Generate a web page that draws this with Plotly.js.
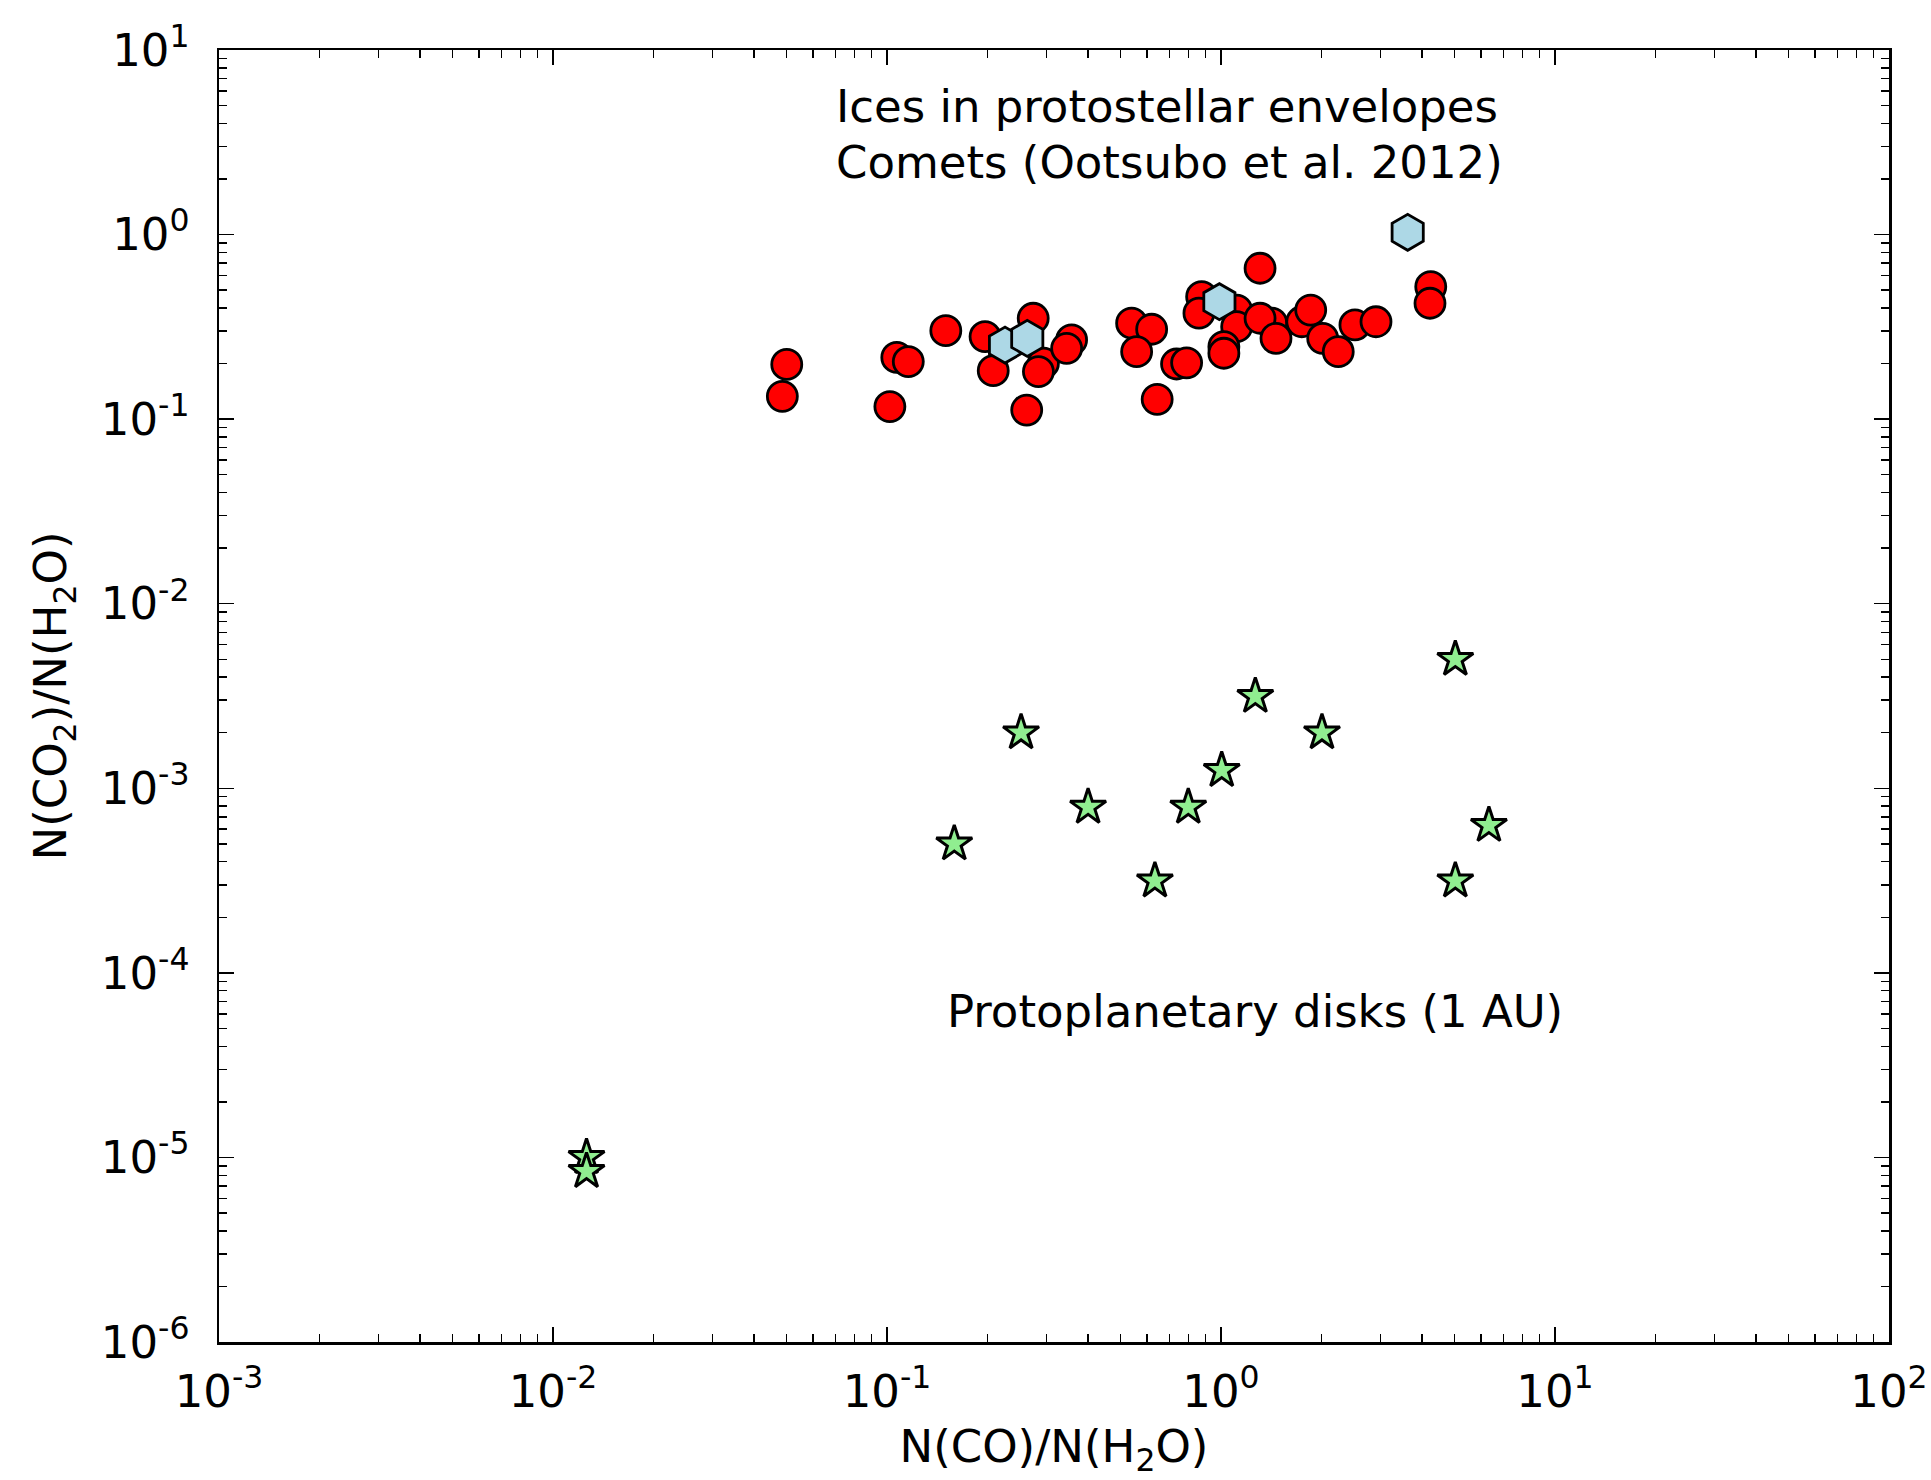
<!DOCTYPE html>
<html>
<head>
<meta charset="utf-8">
<script src="https://cdn.plot.ly/plotly-3.0.1.min.js"></script>
<style>html,body{margin:0;padding:0;background:#fff;}#chart{width:1931px;height:1480px;}</style>
</head>
<body>
<div id="chart"></div>
<script>
// Ices in protostellar envelopes (red circles)
const envX = [0.0501, 0.0486, 0.107, 0.1158, 0.102, 0.150, 0.1966, 0.274, 0.208, 0.294, 0.284, 0.357, 0.345, 0.262,
              0.540, 0.620, 0.559, 0.644, 0.736, 0.789, 0.875, 0.859, 1.114, 1.114, 1.02, 1.02, 1.309, 1.419, 1.309,
              1.461, 1.745, 1.856, 2.016, 2.244, 2.518, 2.911, 4.246, 4.224];
const envY = [0.198, 0.133, 0.216, 0.205, 0.117, 0.3015, 0.280, 0.352, 0.183, 0.201, 0.181, 0.2685, 0.242, 0.112,
              0.331, 0.307, 0.232, 0.128, 0.199, 0.202, 0.461, 0.375, 0.390, 0.317, 0.247, 0.2275, 0.657, 0.331, 0.352,
              0.274, 0.337, 0.390, 0.274, 0.232, 0.324, 0.337, 0.522, 0.4245];

// Comets (light blue hexagons)
const cometX = [0.2256, 0.263, 0.989, 3.622];
const cometY = [0.252, 0.274, 0.433, 1.029];

// Protoplanetary disks at 1 AU (green stars)
const diskX = [0.0126, 0.0126, 0.159, 0.252, 0.400, 0.634, 0.798, 1.005, 1.267, 2.006, 5.03, 6.34, 5.03];
const diskY = [1.0e-5, 8.4e-6, 5.0e-4, 2.0e-3, 7.9e-4, 3.15e-4, 7.9e-4, 1.25e-3, 3.15e-3, 2.0e-3, 5.0e-3, 6.3e-4, 3.15e-4];

// Axis ticks
const xTickVals = [1e-3, 1e-2, 1e-1, 1e0, 1e1, 1e2];
const xTickText = ['10<sup>-3</sup>', '10<sup>-2</sup>', '10<sup>-1</sup>', '10<sup>0</sup>', '10<sup>1</sup>', '10<sup>2</sup>'];
const yTickVals = [1e-6, 1e-5, 1e-4, 1e-3, 1e-2, 1e-1, 1e0, 1e1];
const yTickText = ['10<sup>-6</sup>', '10<sup>-5</sup>', '10<sup>-4</sup>', '10<sup>-3</sup>', '10<sup>-2</sup>', '10<sup>-1</sup>', '10<sup>0</sup>', '10<sup>1</sup>'];

// Text labels
const labelTexts = ['Ices in protostellar envelopes', 'Comets (Ootsubo et al. 2012)', 'Protoplanetary disks (1 AU)'];
const labelX = [0.07, 0.07, 0.15];
const labelY = [4, 2, 5e-5];

function minorTicks(lo, hi) {
  const out = [];
  for (let e = lo; e < hi; e++) {
    for (let m = 2; m <= 9; m++) out.push(m * Math.pow(10, e));
  }
  return out;
}

const FONT = 'DejaVu Sans';
const FS = 45;

const traces = [
  {
    x: envX, y: envY, type: 'scatter', mode: 'markers', name: 'envelopes',
    marker: {symbol: 'circle', size: 30, color: '#ff0000', line: {color: '#000000', width: 2.8}}
  },
  {
    x: cometX, y: cometY, type: 'scatter', mode: 'markers', name: 'comets',
    marker: {symbol: 'hexagon', size: 36, color: '#add8e6', line: {color: '#000000', width: 2.8}}
  },
  {
    x: diskX, y: diskY, type: 'scatter', mode: 'markers', name: 'disks',
    marker: {symbol: 'star', size: 27, color: '#90ee90', line: {color: '#000000', width: 3}}
  }
];

const axisCommon = {
  type: 'log',
  tickmode: 'array',
  ticks: 'inside',
  ticklen: 15,
  tickwidth: 1.5,
  tickcolor: '#000',
  showline: true,
  linecolor: '#000',
  linewidth: 2.5,
  mirror: 'ticks',
  showgrid: false,
  zeroline: false,
  tickfont: {family: FONT, size: FS, color: '#000'}
};

const layout = {
  width: 1931,
  height: 1480,
  paper_bgcolor: '#ffffff',
  plot_bgcolor: '#ffffff',
  showlegend: false,
  margin: {l: 219, r: 42, t: 50, b: 138, pad: 0},
  font: {family: FONT, size: FS, color: '#000'},
  xaxis: Object.assign({}, axisCommon, {
    range: [-3, 2],
    tickvals: xTickVals,
    ticktext: xTickText,
    ticklabelstandoff: 8,
    minor: {tickvals: minorTicks(-3, 2), ticks: 'inside', ticklen: 8, tickwidth: 1.5, tickcolor: '#000', showgrid: false},
    title: {text: 'N(CO)/N(H<sub>2</sub>O)', font: {family: FONT, size: FS, color: '#000'}, standoff: 14}
  }),
  yaxis: Object.assign({}, axisCommon, {
    range: [-6, 1],
    tickvals: yTickVals,
    ticktext: yTickText,
    ticklabelstandoff: 18,
    minor: {tickvals: minorTicks(-6, 1), ticks: 'inside', ticklen: 8, tickwidth: 1.5, tickcolor: '#000', showgrid: false},
    title: {text: 'N(CO<sub>2</sub>)/N(H<sub>2</sub>O)', font: {family: FONT, size: FS, color: '#000'}, standoff: 20}
  }),
  annotations: labelTexts.map((t, i) => ({
    text: t,
    xref: 'x', yref: 'y',
    x: Math.log10(labelX[i]), y: Math.log10(labelY[i]),
    xanchor: 'left', yanchor: 'bottom',
    yshift: -12, xshift: -1,
    showarrow: false,
    font: {family: FONT, size: FS, color: '#000'}
  }))
};

Plotly.newPlot('chart', traces, layout, {staticPlot: true, displayModeBar: false});
</script>
</body>
</html>
